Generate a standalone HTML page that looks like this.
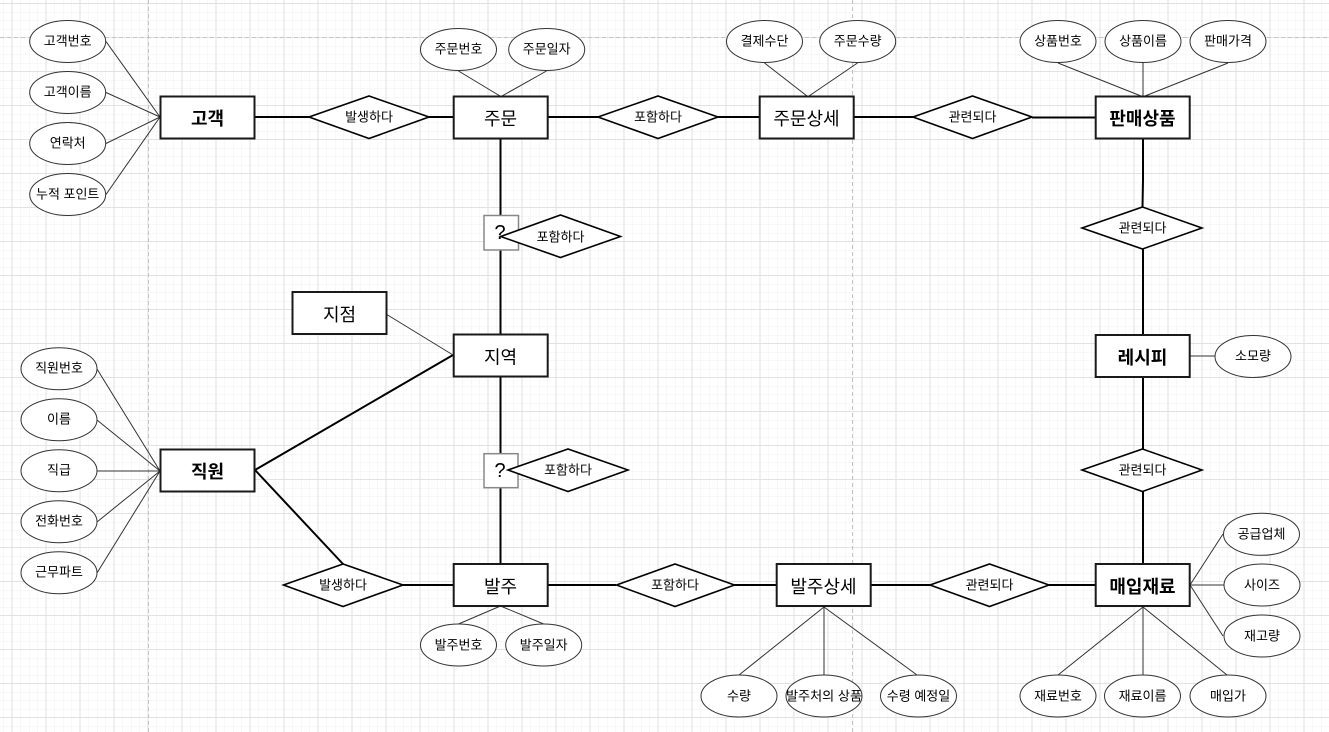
<!DOCTYPE html>
<html lang="ko"><head><meta charset="utf-8"><style>
html,body{margin:0;padding:0;background:#fff;width:1329px;height:732px;overflow:hidden}
svg{display:block}
text{font-family:"Liberation Sans","Noto Sans CJK KR",sans-serif;text-anchor:middle;dominant-baseline:central;fill:#000}
.a{font-size:13px;transform:translateY(1px)}
.e{font-size:18px;font-weight:400;transform:translateY(2px)}
.b{font-weight:700}
.r{fill:#fff;stroke:#1a1a1a;stroke-width:2}
.d{fill:#fff;stroke:#000;stroke-width:1.6}
.o{fill:#fff;stroke:#333;stroke-width:1}
.t{stroke:#333;stroke-width:1;fill:none}
.k{stroke:#000;stroke-width:2;fill:none}
.q{fill:#fff;stroke:#888;stroke-width:1.5}
</style></head><body>
<svg width="1329" height="732" viewBox="0 0 1329 732" xmlns="http://www.w3.org/2000/svg">
<defs>
<pattern id="mn" width="8.5" height="8.5" patternUnits="userSpaceOnUse" x="12" y="3.5"><path d="M0 0V8.5M0 0H8.5" stroke="#f0f0f0" stroke-width="1" fill="none"/></pattern>
<pattern id="mj" width="34" height="34" patternUnits="userSpaceOnUse" x="11.5" y="3"><path d="M.5 0V34M0 .5H34" stroke="#e2e2e2" stroke-width="1" fill="none"/></pattern>
</defs>
<rect width="1329" height="732" fill="#fff"/>
<rect width="1329" height="732" fill="url(#mn)"/>
<rect width="1329" height="732" fill="url(#mj)"/>
<path d="M148.5 0V732M852.5 0V732M0 37.5H1329" stroke="#c4c4c4" stroke-width="1" stroke-dasharray="4 3" fill="none"/>

<!-- thick connectors -->
<path class="k" d="M255 117H309M429 117H454M548 117H598M718 117H760M854 117H913M1032 117.500H1096M500.500 138V334M500.500 376V564M1143 138V180L1142.500 207M1143 249V335M1143 377V449M1143 491V564M255 470L453 355M255 470L343 564M403 585H454M548 585H616M734 585H777M871 585H930M1049 585H1096"/>

<!-- thin connectors -->
<path class="t" d="M106 41.500L160 117M106 92.500L160 117M106 143.500L160 117M106 194.500L160 117M458.500 71L500 96M546.500 71L502 96M764.500 63L807 96M857.500 63L809 96M1058 63L1141 96M1143 63V96M1228 63L1145 96M386 314L453 355M97 369L160 471M97 420L160 471M97 471H160M97 522L160 471M97 573L160 471M500.500 606L458.500 624M500.500 606L543.700 624M824 607L739 675M824 607V675M824 607L917 675M1190 356H1215M1190 585L1223 534M1190 585H1224M1190 585L1223 636M1143 607L1058 675M1143 607V675M1143 607L1227 675"/>

<!-- question boxes -->
<rect class="q" x="484" y="215.500" width="34.500" height="34.500"/>
<text x="500" y="233" font-size="20">?</text>
<rect class="q" x="484" y="453.700" width="34" height="34"/>
<text x="500" y="471" font-size="20">?</text>

<!-- entities -->
<rect class="r" x="160.500" y="96.500" width="94" height="42"/><text class="e b" x="207.500" y="117">고객</text>
<rect class="r" x="453.700" y="96.500" width="94" height="42"/><text class="e" x="500.500" y="117">주문</text>
<rect class="r" x="759.700" y="96.500" width="94" height="42"/><text class="e" x="806.500" y="117">주문상세</text>
<rect class="r" x="1095.700" y="96.500" width="94" height="42"/><text class="e b" x="1142.500" y="117">판매상품</text>
<rect class="r" x="292.500" y="292" width="94" height="42"/><text class="e" x="339.500" y="313">지점</text>
<rect class="r" x="453.700" y="334.500" width="94" height="42"/><text class="e" x="500.500" y="355.500">지역</text>
<rect class="r" x="160.500" y="449.500" width="94" height="42"/><text class="e b" x="207.500" y="470">직원</text>
<rect class="r" x="1095.700" y="335" width="94" height="42"/><text class="e b" x="1142.500" y="356">레시피</text>
<rect class="r" x="453.700" y="564" width="94" height="42"/><text class="e" x="500.500" y="585">발주</text>
<rect class="r" x="776.700" y="564" width="94" height="42"/><text class="e" x="823.500" y="585">발주상세</text>
<rect class="r" x="1095.700" y="564" width="94" height="42"/><text class="e b" x="1142.500" y="585">매입재료</text>

<!-- diamonds -->
<polygon class="d" points="309,117 369,96 429,117 369,138.500"/><text class="a" x="369" y="116">발생하다</text>
<polygon class="d" points="598,117 658,96 718,117 658,138.500"/><text class="a" x="658" y="116">포함하다</text>
<polygon class="d" points="913,117 972.500,96 1032,117 972.500,138.500"/><text class="a" x="972.500" y="116">관련되다</text>
<polygon class="d" points="1082,228 1142.500,207 1202,228 1142.500,249"/><text class="a" x="1142.500" y="227">관련되다</text>
<polygon class="d" points="500.700,236.500 560.500,215 620.500,236.500 560.500,257.500"/><text class="a" x="560.500" y="236">포함하다</text>
<polygon class="d" points="508,470 568,449 628,470 568,491.500"/><text class="a" x="568" y="469">포함하다</text>
<polygon class="d" points="1082,470 1142.500,449 1202,470 1142.500,491.500"/><text class="a" x="1142.500" y="469">관련되다</text>
<polygon class="d" points="283.500,585 343,564 403,585 343,606.500"/><text class="a" x="343" y="584">발생하다</text>
<polygon class="d" points="616.500,585 675,564 734.500,585 675,606.500"/><text class="a" x="675" y="584">포함하다</text>
<polygon class="d" points="930,585 989.500,564 1049,585 989.500,606.500"/><text class="a" x="989.500" y="584">관련되다</text>

<!-- attributes -->
<ellipse class="o" cx="67.700" cy="41.500" rx="38" ry="21"/><text class="a" x="67.700" y="40">고객번호</text>
<ellipse class="o" cx="67.700" cy="92.500" rx="38" ry="21"/><text class="a" x="67.700" y="91">고객이름</text>
<ellipse class="o" cx="67.700" cy="143.500" rx="38" ry="21"/><text class="a" x="67.700" y="142">연락처</text>
<ellipse class="o" cx="67.700" cy="194.500" rx="38" ry="21"/><text class="a" x="67.700" y="193">누적 포인트</text>
<ellipse class="o" cx="458.500" cy="49.500" rx="38" ry="21"/><text class="a" x="458.500" y="48">주문번호</text>
<ellipse class="o" cx="546.700" cy="49.500" rx="38" ry="21"/><text class="a" x="546.700" y="48">주문일자</text>
<ellipse class="o" cx="764.500" cy="41.500" rx="38" ry="21"/><text class="a" x="764.500" y="40">결제수단</text>
<ellipse class="o" cx="857.700" cy="41.500" rx="38" ry="21"/><text class="a" x="857.700" y="40">주문수량</text>
<ellipse class="o" cx="1058" cy="41.500" rx="38" ry="21"/><text class="a" x="1058" y="40">상품번호</text>
<ellipse class="o" cx="1143" cy="41.500" rx="38" ry="21"/><text class="a" x="1143" y="40">상품이름</text>
<ellipse class="o" cx="1228" cy="41.500" rx="38" ry="21"/><text class="a" x="1228" y="40">판매가격</text>
<ellipse class="o" cx="1253" cy="356.500" rx="38" ry="21"/><text class="a" x="1253" y="355">소모량</text>
<ellipse class="o" cx="59" cy="368.700" rx="38" ry="21"/><text class="a" x="59" y="367">직원번호</text>
<ellipse class="o" cx="59" cy="419.700" rx="38" ry="21"/><text class="a" x="59" y="418">이름</text>
<ellipse class="o" cx="59" cy="470.700" rx="38" ry="21"/><text class="a" x="59" y="469">직급</text>
<ellipse class="o" cx="59" cy="521.700" rx="38" ry="21"/><text class="a" x="59" y="520">전화번호</text>
<ellipse class="o" cx="59" cy="572.700" rx="38" ry="21"/><text class="a" x="59" y="571">근무파트</text>
<ellipse class="o" cx="458.500" cy="645" rx="38" ry="21"/><text class="a" x="458.500" y="644">발주번호</text>
<ellipse class="o" cx="543.700" cy="645" rx="38" ry="21"/><text class="a" x="543.700" y="644">발주일자</text>
<ellipse class="o" cx="739" cy="696" rx="38" ry="21"/><text class="a" x="739" y="695">수량</text>
<ellipse class="o" cx="824" cy="696" rx="38" ry="21"/><text class="a" x="824" y="695" textLength="76" lengthAdjust="spacingAndGlyphs">발주처의 상품</text>
<ellipse class="o" cx="918.500" cy="696" rx="38" ry="21"/><text class="a" x="918.500" y="695">수령 예정일</text>
<ellipse class="o" cx="1058" cy="696" rx="38" ry="21"/><text class="a" x="1058" y="695">재료번호</text>
<ellipse class="o" cx="1142.500" cy="696" rx="38" ry="21"/><text class="a" x="1142.500" y="695">재료이름</text>
<ellipse class="o" cx="1228" cy="696" rx="38" ry="21"/><text class="a" x="1228" y="695">매입가</text>
<ellipse class="o" cx="1261.500" cy="534.300" rx="38" ry="21"/><text class="a" x="1261.500" y="533">공급업체</text>
<ellipse class="o" cx="1262" cy="585" rx="38" ry="21"/><text class="a" x="1262" y="584">사이즈</text>
<ellipse class="o" cx="1262" cy="636" rx="38" ry="21"/><text class="a" x="1262" y="635">재고량</text>
</svg>
</body></html>
